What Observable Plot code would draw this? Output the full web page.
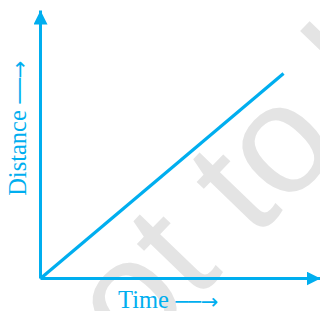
<!DOCTYPE html>
<html>
<head>
<meta charset="utf-8">
<script src="https://cdn.jsdelivr.net/npm/d3@7"></script>
<script src="https://cdn.jsdelivr.net/npm/@observablehq/plot@0.6"></script>
<style>
  html, body { margin: 0; padding: 0; background: #fff; }
  svg { display: block; }
</style>
</head>
<body>
<div id="chart"></div>
<script>
// ---- data ----
const timeValues = [0, 8.68];
const distanceValues = [0, 7.65];
const xAxisExtent = [0, 10];
const yAxisExtent = [0, 10];
const xLabel = "Time";
const yLabel = "Distance";
const labelArrow = "──→";
const watermarkText = ["not to be"];
const watermarkPos = [{x: 1.21, y: -5.52}];

const ink = "#00aeef";

const linePts = timeValues.map((t, i) => ({time: t, distance: distanceValues[i]}));
const axes = [
  {x1: xAxisExtent[0], y1: yAxisExtent[0], x2: xAxisExtent[1], y2: yAxisExtent[0]},
  {x1: xAxisExtent[0], y1: yAxisExtent[0], x2: xAxisExtent[0], y2: yAxisExtent[1]}
];

function triHead(color) {
  const ns = "http://www.w3.org/2000/svg";
  const m = document.createElementNS(ns, "marker");
  m.setAttribute("viewBox", "-14 -7 14 14");
  m.setAttribute("markerWidth", 14);
  m.setAttribute("markerHeight", 14);
  m.setAttribute("markerUnits", "userSpaceOnUse");
  m.setAttribute("orient", "auto");
  m.setAttribute("refX", 0);
  m.setAttribute("refY", 0);
  const p = document.createElementNS(ns, "path");
  p.setAttribute("d", "M-14,-7L0,0L-14,7Z");
  p.setAttribute("fill", color);
  p.setAttribute("stroke", "none");
  m.appendChild(p);
  return m;
}

const serif = "Liberation Serif, Times New Roman, serif";
const arrowFont = "DejaVu Sans, sans-serif";

const chart = Plot.plot({
  width: 320,
  height: 311,
  marginLeft: 40,
  marginRight: 0,
  marginTop: 10,
  marginBottom: 33,
  x: {domain: xAxisExtent, axis: null},
  y: {domain: yAxisExtent, axis: null},
  style: {background: "#fff", overflow: "hidden"},
  marks: [
    Plot.text(watermarkPos, {
      x: "x", y: "y", text: () => watermarkText[0],
      rotate: -46, textAnchor: "start", lineAnchor: "bottom", fontSize: 155,
      fontFamily: "Liberation Sans, Arial, sans-serif",
      fill: "#e4e4e4"
    }),
    Plot.link(axes, {
      x1: "x1", y1: "y1", x2: "x2", y2: "y2",
      stroke: ink, strokeWidth: 3, markerEnd: triHead
    }),
    Plot.line(linePts, {x: "time", y: "distance", stroke: ink, strokeWidth: 3.2, strokeLinecap: "butt"}),
    Plot.text([xLabel], {
      frameAnchor: "bottom", textAnchor: "middle", lineAnchor: "middle", text: d => d, dx: -37, dy: 22,
      fontSize: 24.5, fontFamily: serif, fill: ink
    }),
    Plot.text([labelArrow], {
      frameAnchor: "bottom", textAnchor: "middle", lineAnchor: "middle", text: d => d, dx: 16.5, dy: 24,
      fontSize: 21, fontFamily: arrowFont, fill: ink
    }),
    Plot.text([yLabel], {
      frameAnchor: "left", textAnchor: "middle", lineAnchor: "middle", text: d => d, rotate: -90, dx: -22.5, dy: 8.5,
      fontSize: 24.5, fontFamily: serif, fill: ink
    }),
    Plot.text([labelArrow], {
      frameAnchor: "left", textAnchor: "middle", lineAnchor: "middle", text: d => d, rotate: -90, dx: -20, dy: -62.5,
      fontSize: 21, fontFamily: arrowFont, fill: ink
    })
  ]
});
document.getElementById("chart").appendChild(chart);
</script>
</body>
</html>
